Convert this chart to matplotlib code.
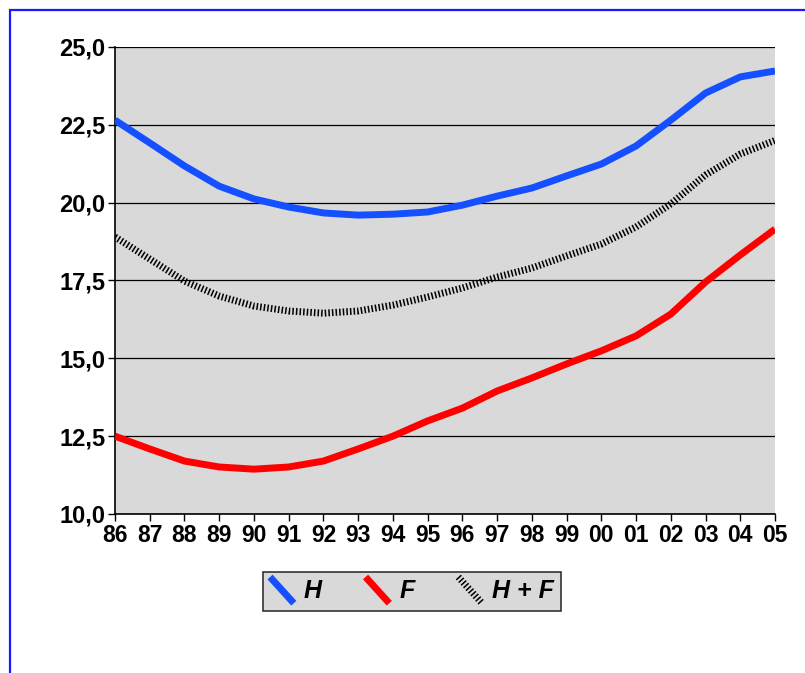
import matplotlib
matplotlib.use("Agg")
import matplotlib.pyplot as plt
from matplotlib.lines import Line2D
from matplotlib.legend_handler import HandlerBase
from matplotlib.patches import Rectangle

years = ["86", "87", "88", "89", "90", "91", "92", "93", "94", "95",
         "96", "97", "98", "99", "00", "01", "02", "03", "04", "05"]
h_vals = [22.65, 21.92, 21.18, 20.53, 20.12, 19.86, 19.67, 19.60, 19.63, 19.70,
          19.92, 20.21, 20.47, 20.86, 21.24, 21.82, 22.65, 23.52, 24.04, 24.23]
f_vals = [12.50, 12.09, 11.70, 11.51, 11.44, 11.51, 11.70, 12.09, 12.50, 12.99,
          13.40, 13.95, 14.37, 14.82, 15.24, 15.72, 16.42, 17.45, 18.32, 19.15]
hf_vals = [18.90, 18.19, 17.48, 17.00, 16.68, 16.52, 16.45, 16.52, 16.71, 16.97,
           17.26, 17.61, 17.90, 18.29, 18.67, 19.22, 19.96, 20.89, 21.56, 22.00]
y_ticks = [10.0, 12.5, 15.0, 17.5, 20.0, 22.5, 25.0]
y_labels = ["10,0", "12,5", "15,0", "17,5", "20,0", "22,5", "25,0"]


class DiagHandler(HandlerBase):
    # legend key drawn as a short diagonal stroke
    def create_artists(self, legend, orig_handle, xdescent, ydescent,
                       width, height, fontsize, trans):
        x0 = -xdescent
        y0 = -ydescent
        l = Line2D([x0, x0 + width], [y0 + height * 1.2, y0 - height * 0.3])
        l.update_from(orig_handle)
        l.set_clip_on(False)
        l.set_clip_box(None)
        l.set_transform(trans)
        return [l]


fig = plt.figure(figsize=(8.05, 6.73), dpi=100)
fig.patches.append(Rectangle((10 / 805, -0.1), 2.0, 1.1 - 10 / 673, transform=fig.transFigure,
                             fill=False, edgecolor="#1a1aff", linewidth=1.6))

ax = fig.add_axes([115 / 805, 1 - 514 / 673, 660 / 805, 467 / 673])
ax.set_facecolor("#d9d9d9")

x = list(range(len(years)))
ax.plot(x, h_vals, color="#1450ff", lw=5, solid_capstyle="butt", label="H", zorder=3)
ax.plot(x, f_vals, color="#ff0000", lw=5, solid_capstyle="butt", label="F", zorder=3)
ax.plot(x, hf_vals, color="black", lw=5, dashes=(0.22, 0.3), dash_capstyle="butt",
        label="H + F", zorder=3)

ax.set_xlim(0, len(years) - 1)
ax.set_ylim(10, 25)
ax.set_yticks(y_ticks)
ax.set_yticklabels(y_labels, fontsize=17, fontweight="bold", family="Liberation Sans")
ax.set_xticks(x)
ax.set_xticklabels(years, fontsize=16.5, fontweight="bold", family="Liberation Sans")
ax.tick_params(axis="both", direction="out", length=5, width=1, pad=2)
ax.grid(axis="y", color="black", lw=0.9, zorder=1)
ax.set_axisbelow(True)
for s in ["top", "right"]:
    ax.spines[s].set_visible(False)
for s in ["left", "bottom"]:
    ax.spines[s].set_linewidth(1.2)

leg = fig.legend(handler_map={Line2D: DiagHandler()}, loc="center",
                 bbox_to_anchor=(412 / 805, 1 - 591 / 673), ncol=3,
                 prop={"family": "Liberation Sans", "weight": "bold", "style": "italic", "size": 18},
                 handlelength=0.95, handletextpad=0.4, columnspacing=1.75,
                 fancybox=False, framealpha=1, borderpad=0.3)
leg.get_frame().set_facecolor("#d9d9d9")
leg.get_frame().set_edgecolor("#333333")
leg.get_frame().set_linewidth(1.2)

fig.savefig("out.png", dpi=100)
